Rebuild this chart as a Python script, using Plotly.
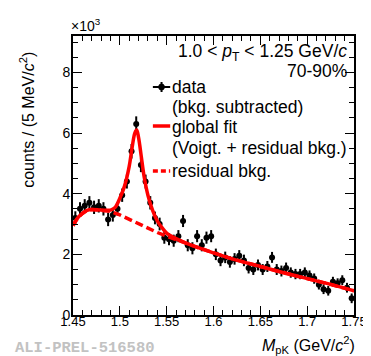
import plotly.graph_objects as go

# ---- data, counts in units of 10^3 ----
mass = [1.4525 + 0.005 * i for i in range(60)]
counts = [3.2, 3.5, 3.6, 3.7, 3.55, 3.6, 3.5, 3.15, 3.3, 3.5,
          3.95, 4.4, 5.4, 6.3, 4.95, 4.4, 3.7, 3.2, 3.0, 2.55,
          2.5, 2.45, 2.6, 3.1, 2.3, 2.2, 2.6, 2.3, 2.55, 2.6,
          2.0, 1.8, 1.9, 1.75, 1.85, 1.95, 1.8, 1.55, 1.5, 1.65,
          1.5, 1.6, 1.9, 1.5, 1.45, 1.55, 1.4, 1.35, 1.35, 1.4,
          1.3, 1.2, 1.0, 0.85, 0.8, 1.1, 1.05, 1.15, 0.9, 0.55]
count_err = [0.22, 0.22, 0.22, 0.22, 0.22, 0.22, 0.22, 0.22, 0.22, 0.22,
             0.22, 0.23, 0.24, 0.25, 0.24, 0.23, 0.22, 0.21, 0.21, 0.2,
             0.2, 0.2, 0.2, 0.2, 0.2, 0.2, 0.2, 0.2, 0.2, 0.2,
             0.19, 0.19, 0.19, 0.19, 0.19, 0.19, 0.19, 0.18, 0.18, 0.18,
             0.18, 0.18, 0.18, 0.18, 0.18, 0.18, 0.17, 0.17, 0.17, 0.17,
             0.17, 0.17, 0.16, 0.16, 0.16, 0.16, 0.16, 0.16, 0.16, 0.16]
bin_half = [0.0025] * 60

fit_mass = [1.450, 1.455, 1.460, 1.465, 1.470, 1.480, 1.490, 1.495, 1.500,
            1.505, 1.510, 1.513, 1.516, 1.518, 1.520, 1.523, 1.526, 1.530,
            1.535, 1.540, 1.545, 1.550, 1.560, 1.570, 1.580, 1.600, 1.620,
            1.650, 1.680, 1.700, 1.720, 1.750]
fit_vals = [2.95, 3.2, 3.35, 3.45, 3.48, 3.46, 3.46, 3.55, 3.85,
            4.25, 4.9, 5.5, 6.0, 6.1, 5.85, 5.2, 4.55, 3.95,
            3.45, 3.1, 2.88, 2.7, 2.52, 2.38, 2.26, 2.05, 1.85,
            1.6, 1.35, 1.2, 1.05, 0.8]

bkg_mass = [1.450, 1.455, 1.460, 1.465, 1.470, 1.480, 1.490, 1.500, 1.510,
            1.520, 1.530, 1.540, 1.550, 1.560, 1.570, 1.580, 1.600, 1.620,
            1.650, 1.680, 1.700, 1.720, 1.750]
bkg_vals = [2.95, 3.2, 3.35, 3.45, 3.48, 3.46, 3.42, 3.3, 3.15,
            3.0, 2.85, 2.72, 2.6, 2.48, 2.37, 2.26, 2.05, 1.85,
            1.6, 1.35, 1.2, 1.05, 0.8]

x_ticks = [1.45, 1.5, 1.55, 1.6, 1.65, 1.7, 1.75]
x_tick_text = ["1.45", "1.5", "1.55", "1.6", "1.65", "1.7", "1.75"]
y_ticks = [0, 2, 4, 6, 8]
y_tick_text = ["0", "2", "4", "6", "8"]

FONT = "Liberation Sans, Arial, sans-serif"

fig = go.Figure()
fig.add_trace(go.Scatter(
    x=mass, y=counts, mode="markers",
    marker=dict(symbol="circle", size=6, color="black"),
    error_y=dict(type="data", array=count_err, color="black", thickness=2, width=0),
    error_x=dict(type="data", array=bin_half, color="black", thickness=2, width=0),
    showlegend=False, hoverinfo="skip"))
fig.add_trace(go.Scatter(
    x=bkg_mass, y=bkg_vals, mode="lines",
    line=dict(color="#ff0000", width=3.5, dash="8px,4px"),
    showlegend=False, hoverinfo="skip"))
fig.add_trace(go.Scatter(
    x=fit_mass, y=fit_vals, mode="lines", line_shape="spline",
    line=dict(color="#ff0000", width=3.5),
    showlegend=False, hoverinfo="skip"))

axis_common = dict(
    showgrid=False, zeroline=False, showline=True, linecolor="black", linewidth=2,
    mirror="allticks", ticks="inside", ticklen=9, tickwidth=1.3, tickcolor="black",
)
fig.update_xaxes(range=[1.45, 1.75], tickvals=x_ticks, ticktext=x_tick_text,
                 tickfont=dict(family=FONT, size=13, color="black"),
                 ticklabelstandoff=-7,
                 minor=dict(dtick=0.01, ticks="inside", ticklen=5, tickcolor="black", tickwidth=1.3),
                 **axis_common)
fig.update_yaxes(range=[0, 9.2], tickvals=y_ticks, ticktext=y_tick_text,
                 tickfont=dict(family=FONT, size=14, color="black"),
                 ticklabelstandoff=-2,
                 minor=dict(dtick=0.5, ticks="inside", ticklen=5, tickcolor="black", tickwidth=1.3),
                 **axis_common)

L, R, T, B = 65, 14, 28, 49
W, H = 371, 356
pw, ph = W - L - R, H - T - B

def px(xp):
    return (xp - L) / pw

def py(yp):
    return (H - B - yp) / ph

annots = []
def txt(x, y, s, anchor="left", size=15, color="black", family=FONT, angle=0):
    annots.append(dict(xref="paper", yref="paper", x=px(x), y=py(y), text=s,
                       showarrow=False, xanchor=anchor, yanchor="middle",
                       textangle=angle, borderpad=0,
                       font=dict(family=family, size=size, color=color)))

LS = 17.5
txt(351, 44, "1.0 &lt; <i>p</i><sub>T</sub> &lt; 1.25 GeV/<i>c</i>", anchor="right", size=LS)
txt(351, 63, "70-90%", anchor="right", size=LS)
txt(167, 79, "data", size=LS)
txt(167, 99, "(bkg. subtracted)", size=LS)
txt(167, 119, "global fit", size=LS)
txt(167, 140, "(Voigt. + residual bkg.)", size=LS)
txt(167, 163, "residual bkg.", size=LS)
txt(62, 17, "×10<sup>3</sup>", size=14)
txt(17, 112, "counts / (5 MeV/<i>c</i><sup>2</sup>)", anchor="center", angle=-90, size=16)
txt(359, 337, "<i>M</i><sub>pK</sub> (GeV/<i>c</i><sup>2</sup>)", anchor="right", size=16)
txt(4, 340, "<b>ALI-PREL-516580</b>", size=15.5, color="#c2c2c2",
    family="Liberation Mono, Courier New, monospace")

shapes = [
    dict(type="line", xref="paper", yref="paper", x0=px(148), x1=px(166), y0=py(79), y1=py(79),
         line=dict(color="black", width=2)),
    dict(type="circle", xref="paper", yref="paper", x0=px(154), x1=px(160), y0=py(76), y1=py(82),
         fillcolor="black", line=dict(color="black", width=1)),
    dict(type="line", xref="paper", yref="paper", x0=px(157), x1=px(157), y0=py(74), y1=py(84),
         line=dict(color="black", width=2)),
    dict(type="line", xref="paper", yref="paper", x0=px(148), x1=px(166), y0=py(118), y1=py(118),
         line=dict(color="#ff0000", width=3.5)),
    dict(type="line", xref="paper", yref="paper", x0=px(148), x1=px(166), y0=py(163), y1=py(163),
         line=dict(color="#ff0000", width=3.5, dash="5px,3px")),
]

fig.update_layout(
    width=W, height=H, margin=dict(l=L, r=R, t=T, b=B),
    paper_bgcolor="white", plot_bgcolor="white",
    annotations=annots, shapes=shapes, showlegend=False,
)
fig.write_html("out.html")
